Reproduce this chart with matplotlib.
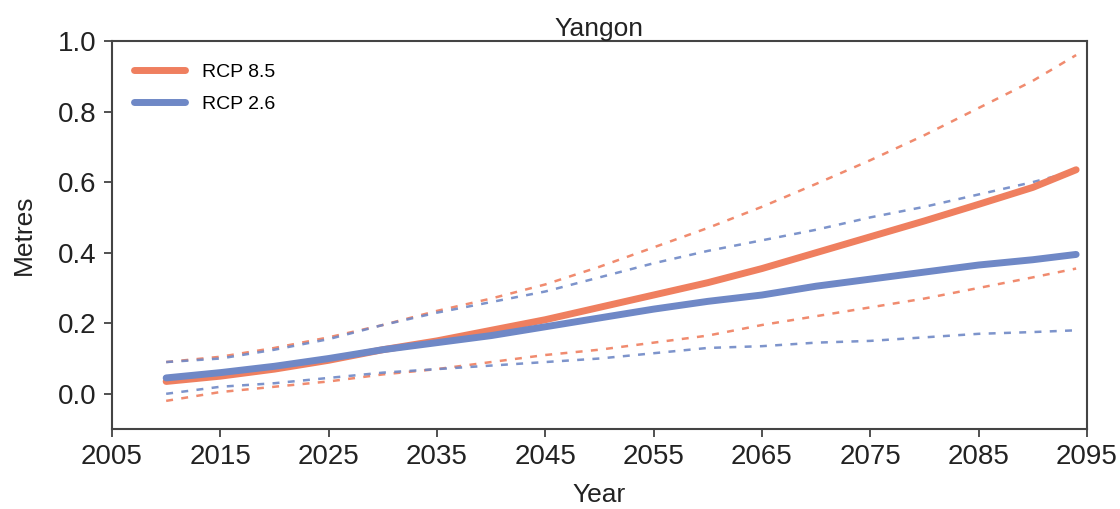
import matplotlib
matplotlib.use("Agg")
import matplotlib.pyplot as plt

plt.rcParams['font.family'] = ['Liberation Sans', 'DejaVu Sans']
plt.rcParams['lines.scale_dashes'] = False

years = [2010, 2015, 2020, 2025, 2030, 2035, 2040, 2045, 2050, 2055,
         2060, 2065, 2070, 2075, 2080, 2085, 2090, 2094]
rcp85_mid = [0.035, 0.05, 0.07, 0.095, 0.125, 0.15, 0.18, 0.21, 0.245, 0.28,
             0.315, 0.355, 0.40, 0.445, 0.49, 0.537, 0.585, 0.635]
rcp26_mid = [0.045, 0.06, 0.078, 0.10, 0.125, 0.145, 0.165, 0.19, 0.215, 0.24,
             0.262, 0.28, 0.305, 0.325, 0.345, 0.365, 0.38, 0.395]
rcp85_hi = [0.09, 0.105, 0.13, 0.16, 0.195, 0.235, 0.27, 0.31, 0.36, 0.415,
            0.47, 0.53, 0.595, 0.662, 0.733, 0.81, 0.887, 0.96]
rcp26_hi = [0.09, 0.10, 0.125, 0.155, 0.195, 0.23, 0.26, 0.29, 0.33, 0.37,
            0.405, 0.435, 0.465, 0.50, 0.53, 0.565, 0.60, 0.632]
rcp85_lo = [-0.02, 0.005, 0.02, 0.035, 0.055, 0.07, 0.09, 0.11, 0.125, 0.145,
            0.165, 0.195, 0.22, 0.245, 0.27, 0.30, 0.33, 0.355]
rcp26_lo = [0.00, 0.02, 0.03, 0.045, 0.06, 0.07, 0.08, 0.09, 0.10, 0.115,
            0.13, 0.135, 0.145, 0.15, 0.16, 0.17, 0.175, 0.18]

xticks = [2005, 2015, 2025, 2035, 2045, 2055, 2065, 2075, 2085, 2095]
yticks = [0.0, 0.2, 0.4, 0.6, 0.8, 1.0]

c85 = '#EF7F5F'
c26 = '#6F88C6'

fig = plt.figure(figsize=(11.2, 5.09), dpi=100)
ax = fig.add_axes([0.1, 0.157, 0.8705, 0.7625])

ax.plot(years, rcp85_hi, color=c85, lw=1.8, dashes=(5, 6), alpha=0.9)
ax.plot(years, rcp85_lo, color=c85, lw=1.8, dashes=(5, 6), alpha=0.9)
ax.plot(years, rcp26_hi, color=c26, lw=1.8, dashes=(5, 6), alpha=0.9)
ax.plot(years, rcp26_lo, color=c26, lw=1.8, dashes=(5, 6), alpha=0.9)
ax.plot(years, rcp85_mid, color=c85, lw=5, solid_capstyle='round', label='RCP 8.5')
ax.plot(years, rcp26_mid, color=c26, lw=5, solid_capstyle='round', label='RCP 2.6')

ax.set_xlim(2005, 2095)
ax.set_ylim(-0.1, 1.0)
ax.set_xticks(xticks)
ax.set_yticks(yticks)
ax.set_yticklabels([f'{v:.1f}' for v in yticks])
ax.tick_params(labelsize=20, direction='out', length=6, width=1.2, pad=5,
               color='#333333', labelcolor='#222222')
for s in ax.spines.values():
    s.set_color('#444444')
    s.set_linewidth(1.5)

ax.set_xlabel('Year', fontsize=19, color='#222222', labelpad=9)
ax.set_ylabel('Metres', fontsize=19, color='#222222', labelpad=16)
ax.set_title('Yangon', fontsize=19, color='#222222', pad=0)

leg = ax.legend(loc='upper left', frameon=False, fontsize=14, handlelength=2.6,
                handletextpad=0.9, borderaxespad=0.75, labelspacing=0.75)

fig.savefig('out.png', dpi=100)
